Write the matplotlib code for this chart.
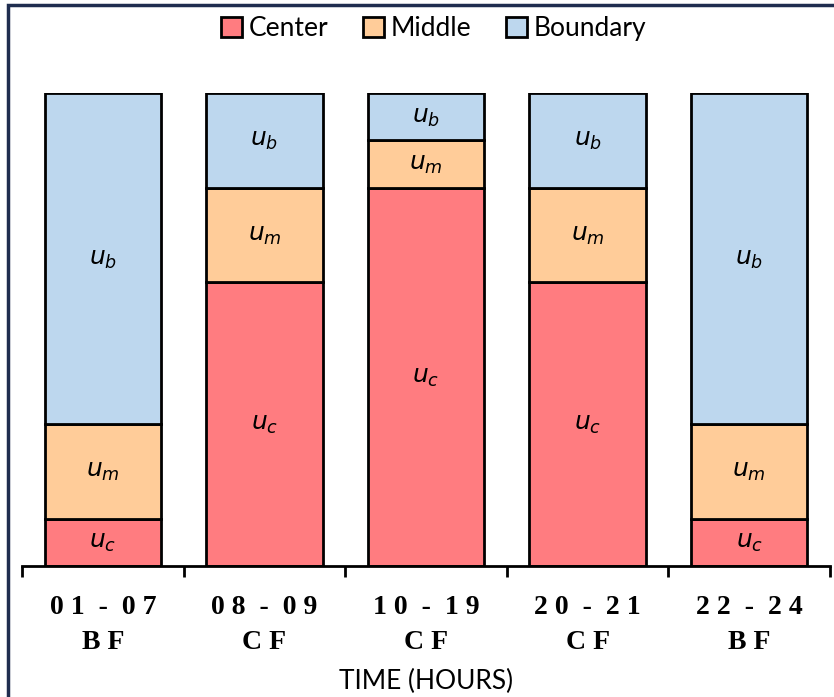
import matplotlib.pyplot as plt
from matplotlib.patches import Rectangle, Patch

# data (percent share of each region per time period)
periods = ["0 1  -  0 7\nB F", "0 8  -  0 9\nC F", "1 0  -  1 9\nC F",
           "2 0  -  2 1\nC F", "2 2  -  2 4\nB F"]
center = [10, 60, 80, 60, 10]
middle = [20, 20, 10, 20, 20]
boundary = [70, 20, 10, 20, 70]

series_names = ["Center", "Middle", "Boundary"]
series_labels = [r"$u_c$", r"$u_m$", r"$u_b$"]
colors = ["#FF7C80", "#FFCC99", "#BDD7EE"]

fig = plt.figure(figsize=(8.34, 6.97), dpi=100)
ax = fig.add_axes([22 / 834, 1 - 566 / 697, 808 / 834, 473 / 697])

x = list(range(len(periods)))
bottom = [0] * len(periods)
for vals, col, lab in zip([center, middle, boundary], colors, series_labels):
    ax.bar(x, vals, 0.72, bottom=bottom, color=col, edgecolor="black",
           linewidth=2, zorder=2)
    for i in x:
        ax.text(i, bottom[i] + vals[i] / 2, lab, ha="center", va="center",
                fontsize=18, zorder=3)
    bottom = [b + v for b, v in zip(bottom, vals)]

ax.set_xlim(-0.5, len(periods) - 0.5)
ax.set_ylim(0, 100)
for s in ["top", "right", "left"]:
    ax.spines[s].set_visible(False)
ax.spines["bottom"].set_linewidth(2)
ax.set_yticks([])

ax.set_xticks(x)
ax.set_xticklabels(periods, fontfamily="Liberation Serif", fontweight="bold",
                   fontsize=20, linespacing=1.5)
ax.tick_params(axis="x", which="major", length=0, pad=21)
ax.set_xticks([i - 0.5 for i in range(len(periods) + 1)], minor=True)
ax.tick_params(axis="x", which="minor", length=8, width=2, direction="out")

ax.set_xlabel("TIME (HOURS)", fontfamily=["Lato", "DejaVu Sans"], fontsize=19,
              labelpad=10)

handles = [Patch(facecolor=c, edgecolor="black", linewidth=2) for c in colors]
fig.legend(handles, series_names, loc="upper center", bbox_to_anchor=(0.52, 1.0),
           ncol=3, frameon=False, prop={"family": ["Lato", "DejaVu Sans"], "size": 19},
           handlelength=0.8, handleheight=0.8, handletextpad=0.25, columnspacing=1.3,
           borderaxespad=0.2)

# outer frame
fig.patches.append(Rectangle((8 / 834, -0.2), 1.2, 1.2 - 5 / 697,
                             transform=fig.transFigure, fill=False,
                             edgecolor="#1F2D4F", linewidth=2.5))

fig.savefig("out.png", dpi=100)
